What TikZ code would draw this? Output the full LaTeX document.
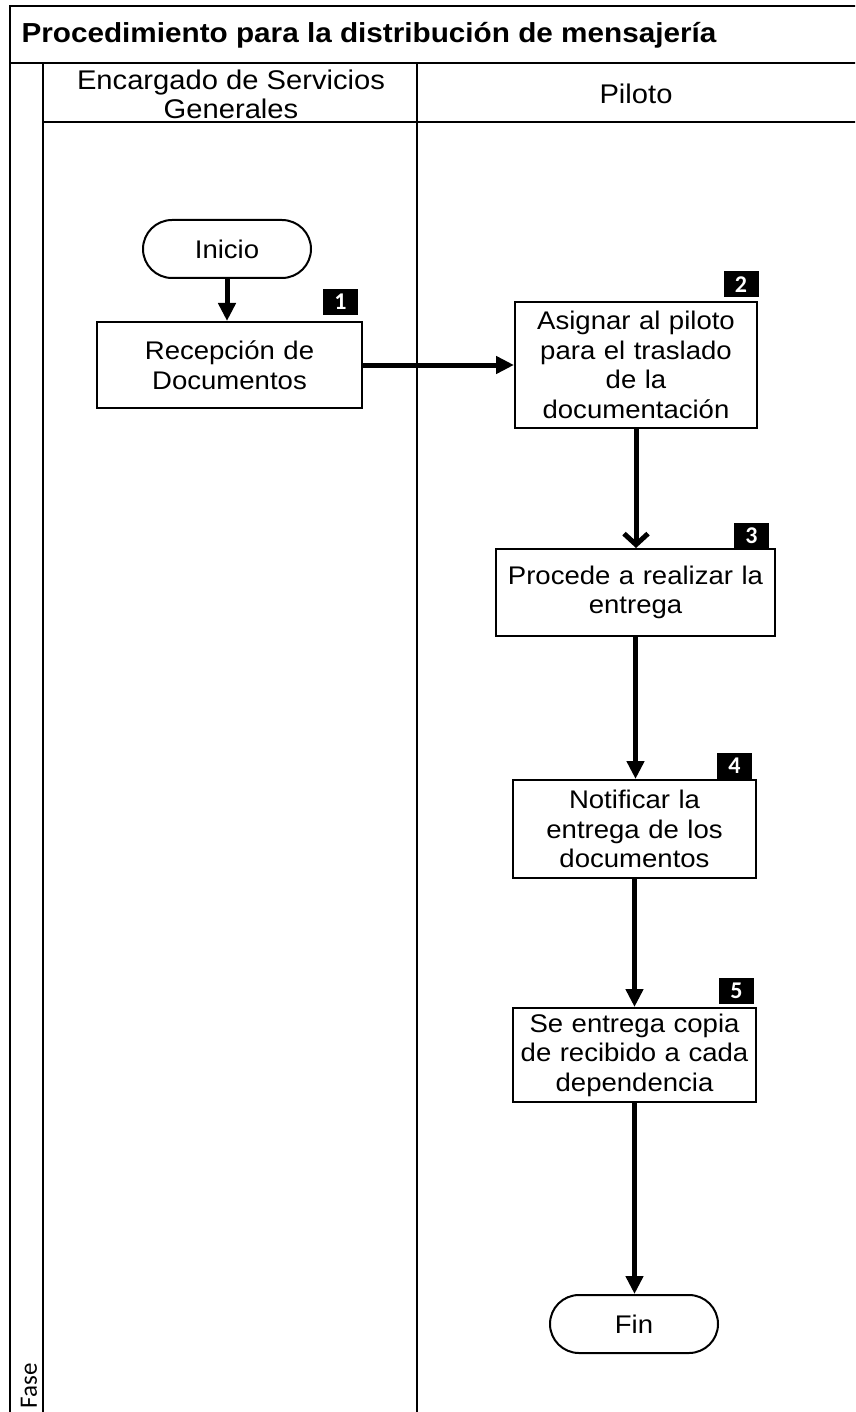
\documentclass[tikz,border=0pt]{standalone}
\usepackage{fontspec}
\setmainfont{Liberation Sans}[FakeStretch=1.08]
\newfontfamily\calib{Carlito}
\usetikzlibrary{arrows.meta}
\begin{document}
\begin{tikzpicture}[x={(1pt,0)}, y={(0,-1pt)},
  frame/.style={line width=2pt},
  bodyfont/.style={font=\fontsize{25.5}{29.5}\selectfont},
  procbox/.style={draw, line width=2pt, align=center, inner sep=0pt, bodyfont},
  term/.style={draw, line width=2pt, rounded corners=29pt, minimum width=168pt, minimum height=58pt, inner sep=0pt, bodyfont},
  badge/.style={fill=black, text=white, minimum width=35pt, minimum height=26pt, inner sep=0pt, font=\calib\bfseries\fontsize{24}{24}\selectfont},
  arr/.style={line width=5pt, -{Triangle[length=18pt,width=17pt]}},
  arrv/.style={line width=5pt, -{Straight Barb[length=11pt,width=24pt]}}]
\useasboundingbox (0,0) rectangle (855,1412);
\clip (0,0) rectangle (855,1412);
\fill[white] (0,0) rectangle (855,1412);
% frame
\draw[frame] (10,1420) -- (10,6) -- (860,6);
\draw[frame] (10,63) -- (860,63);
\draw[frame] (43,63) -- (43,1420);
\draw[frame] (43,122) -- (860,122);
\draw[frame] (417,63) -- (417,1420);
% texts of the frame
\node[anchor=west, font=\bfseries\fontsize{27.5}{30}\selectfont] (title) at (18,35) {Procedimiento para la distribución de mensajería};
\node[align=center, font=\fontsize{27}{29}\selectfont] (lane1) at (231,94) {Encargado de Servicios\\Generales};
\node[font=\fontsize{27}{29}\selectfont] (lane2) at (636,94) {Piloto};
\node[rotate=90, font=\calib\fontsize{25}{25}\selectfont] (fase) at (29,1386) {Fase};
% nodes
\node[term] (inicio) at (227,249) {Inicio};
\node[procbox, minimum width=265pt, minimum height=86pt, text width=265pt] (box1) at (229.5,365) {Recepción de\\Documentos};
\node[procbox, minimum width=242pt, minimum height=126pt, text width=242pt] (box2) at (636,365) {Asignar al piloto\\para el traslado\\de la\\documentación};
\node[procbox, minimum width=279pt, minimum height=87pt, text width=279pt] (box3) at (635.5,592.5) {Procede a realizar la\\entrega};
\node[procbox, minimum width=243pt, minimum height=98pt, text width=243pt] (box4) at (634.5,829) {Notificar la\\entrega de los\\documentos};
\node[procbox, minimum width=243pt, minimum height=94pt, text width=243pt] (box5) at (634.5,1055) {Se entrega copia\\de recibido a cada\\dependencia};
\node[term] (fin) at (634,1324) {Fin};
% badges
\node[badge] (b1) at (340.5,302) {1};
\node[badge] (b2) at (741,284.5) {2};
\node[badge] (b3) at (751.5,535.5) {3};
\node[badge] (b4) at (734.5,765.5) {4};
\node[badge] (b5) at (736.5,990.5) {5};
% connectors
\draw[arr] (inicio.south) -- (inicio.south |- box1.north);
\draw[arr] (box1.east) -- (box2.west);
\draw[arrv] (box2.south) -- (box2.south |- box3.north);
\draw[arr] (box3.south) -- (box3.south |- box4.north);
\draw[arr] (box4.south) -- (box4.south |- box5.north);
\draw[arr] (box5.south) -- (box5.south |- fin.north);
\end{tikzpicture}
\end{document}
